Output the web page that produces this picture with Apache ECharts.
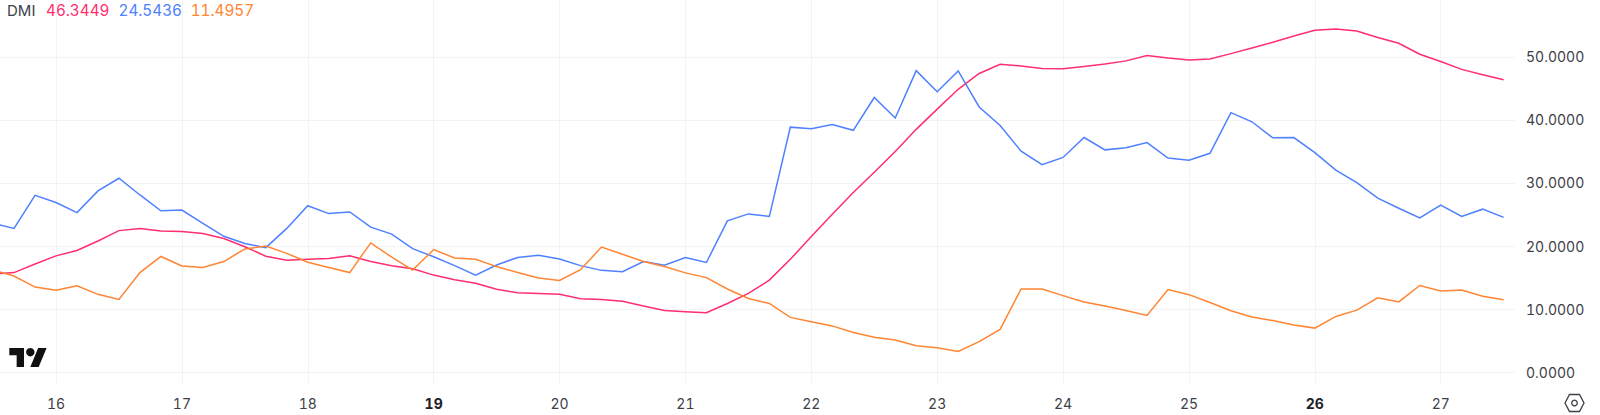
<!DOCTYPE html>
<html><head><meta charset="utf-8">
<style>html,body{margin:0;padding:0;background:#fff}#c{width:1600px;height:415px}
#c text{font-variant-numeric:tabular-nums !important;font-feature-settings:"tnum" 1 !important}</style>
<script src="https://cdn.jsdelivr.net/npm/echarts@6/dist/echarts.min.js"></script>
</head><body><div id="c"></div>
<script>
const firstStamp = 15.5, stepsPerDay = 6;
const dayTicks = [16,17,18,19,20,21,22,23,24,25,26,27];
const boldDays = [19,26];
const valueTicks = [0,10,20,30,40,50];
const adx = [15.6,15.8,17.15,18.45,19.3,20.8,22.45,22.8,22.4,22.3,22.0,21.2,19.9,18.4,17.75,17.9,18.05,18.45,17.55,16.9,16.4,15.4,14.65,14.1,13.15,12.6,12.5,12.35,11.65,11.55,11.25,10.5,9.8,9.6,9.45,10.9,12.5,14.6,17.9,21.5,25.05,28.5,31.7,35,38.5,41.7,44.85,47.35,48.8,48.55,48.15,48.1,48.45,48.85,49.35,50.2,49.8,49.5,49.65,50.5,51.4,52.3,53.3,54.2,54.4,54.1,53.05,52.15,50.4,49.25,48.0,47.15,46.3449];
const diPlus = [23.6,22.8,28.05,26.9,25.3,28.75,30.75,28.1,25.6,25.7,23.6,21.55,20.4,19.75,22.8,26.4,25.15,25.4,23.0,21.9,19.6,18.3,16.9,15.4,17.0,18.2,18.55,17.95,16.9,16.15,15.95,17.55,16.95,18.2,17.4,24.0,25.1,24.7,38.85,38.6,39.25,38.35,43.55,40.3,47.8,44.45,47.75,42.05,39.1,35.05,32.9,34.05,37.2,35.25,35.6,36.4,33.95,33.6,34.7,41.15,39.7,37.15,37.2,34.8,32.05,30.05,27.6,26.0,24.45,26.5,24.7,25.85,24.5436];
const diMinus = [16.2,15.25,13.5,13.0,13.7,12.35,11.55,15.8,18.35,16.85,16.6,17.55,19.55,20.0,18.85,17.45,16.6,15.8,20.5,18.25,16.2,19.45,18.1,17.9,16.75,15.8,14.95,14.55,16.25,19.85,18.7,17.55,16.75,15.75,15.0,13.2,11.7,10.9,8.7,8.0,7.35,6.3,5.55,5.1,4.2,3.9,3.3,4.85,6.8,13.2,13.2,12.15,11.15,10.5,9.8,9.0,13.1,12.3,11.05,9.75,8.75,8.2,7.5,7.0,8.85,9.85,11.8,11.15,13.75,12.9,13.05,12.05,11.4957];
const legendTitle = 'DMI';
const colors = ['#FF2E6E', '#4F80FF', '#FF8533'];
const gridColor = '#f3f3f4', textColor = '#3d4048', font = 'Inter';
const pairs = a => a.map((v,i)=>[firstStamp + i/stepsPerDay, v]);

const chart = echarts.init(document.getElementById('c'), null, {renderer:'svg'});
const mk = (name, data, color) => ({name, type:'line', data:pairs(data), showSymbol:false, symbol:'none', clip:true,
  lineStyle:{color, width:1.5, join:'miter'}, itemStyle:{color}, animation:false, silent:true});
const last = a => a[a.length-1].toFixed(4);
const legendText = (x, text, fill, size) => ({type:'text', x, y:3, silent:true,
  style:{text, fill, font:size+'px Inter', textBaseline:'top'}});
chart.setOption({
  animation:false, backgroundColor:'#fff',
  grid:{left:0, right:85, top:0, bottom:32},
  xAxis:{type:'value', min:15.5551, max:27.59, scale:true,
    axisLine:{show:false},
    axisTick:{show:false, customValues:dayTicks},
    splitLine:{show:true, lineStyle:{color:gridColor, width:1}},
    axisLabel:{customValues:dayTicks, margin:13, fontFamily:font, fontSize:14, color:textColor,
      formatter:v=>boldDays.includes(v)?'{b|'+v+'}':String(v),
      rich:{b:{fontFamily:font, fontSize:14, fontWeight:700, color:'#1f2126'}}}},
  yAxis:{type:'value', position:'right', min:-1.7, max:59, scale:true,
    axisLine:{show:false}, axisTick:{show:false, customValues:valueTicks},
    splitLine:{show:true, lineStyle:{color:gridColor, width:1}},
    axisLabel:{customValues:valueTicks, margin:11, padding:[3,0,0,0], fontFamily:font, fontSize:14, color:textColor, align:'left',
      formatter:v=>v.toFixed(4)}},
  series:[mk('ADX',adx,colors[0]), mk('+DI',diPlus,colors[1]), mk('-DI',diMinus,colors[2])],
  graphic:[
    legendText(7, legendTitle, textColor, 15),
    legendText(46, last(adx), colors[0], 15.25),
    legendText(118.5, last(diPlus), colors[1], 15.25),
    legendText(190.7, last(diMinus), colors[2], 15.25),
    {type:'group', x:9.3, y:343.8, scaleX:1.05, scaleY:1.05, silent:true, children:[
      {type:'polygon', shape:{points:[[14,22],[7,22],[7,11],[0,11],[0,4],[14,4]]}, style:{fill:'#111'}},
      {type:'polygon', shape:{points:[[28,22],[20,22],[27.5,4],[35.5,4]]}, style:{fill:'#111'}},
      {type:'circle', shape:{cx:20, cy:8, r:4}, style:{fill:'#111'}}
    ]},
    {type:'polygon', silent:true, shape:{points:[[1569.5,394.5],[1579.5,394.5],[1584,403],[1579.5,411.5],[1569.5,411.5],[1565,403]]}, style:{fill:'none', stroke:textColor, lineWidth:1.3}},
    {type:'circle', silent:true, shape:{cx:1574.5, cy:403, r:2.8}, style:{fill:'none', stroke:textColor, lineWidth:1.3}}
  ]
});
</script></body></html>
